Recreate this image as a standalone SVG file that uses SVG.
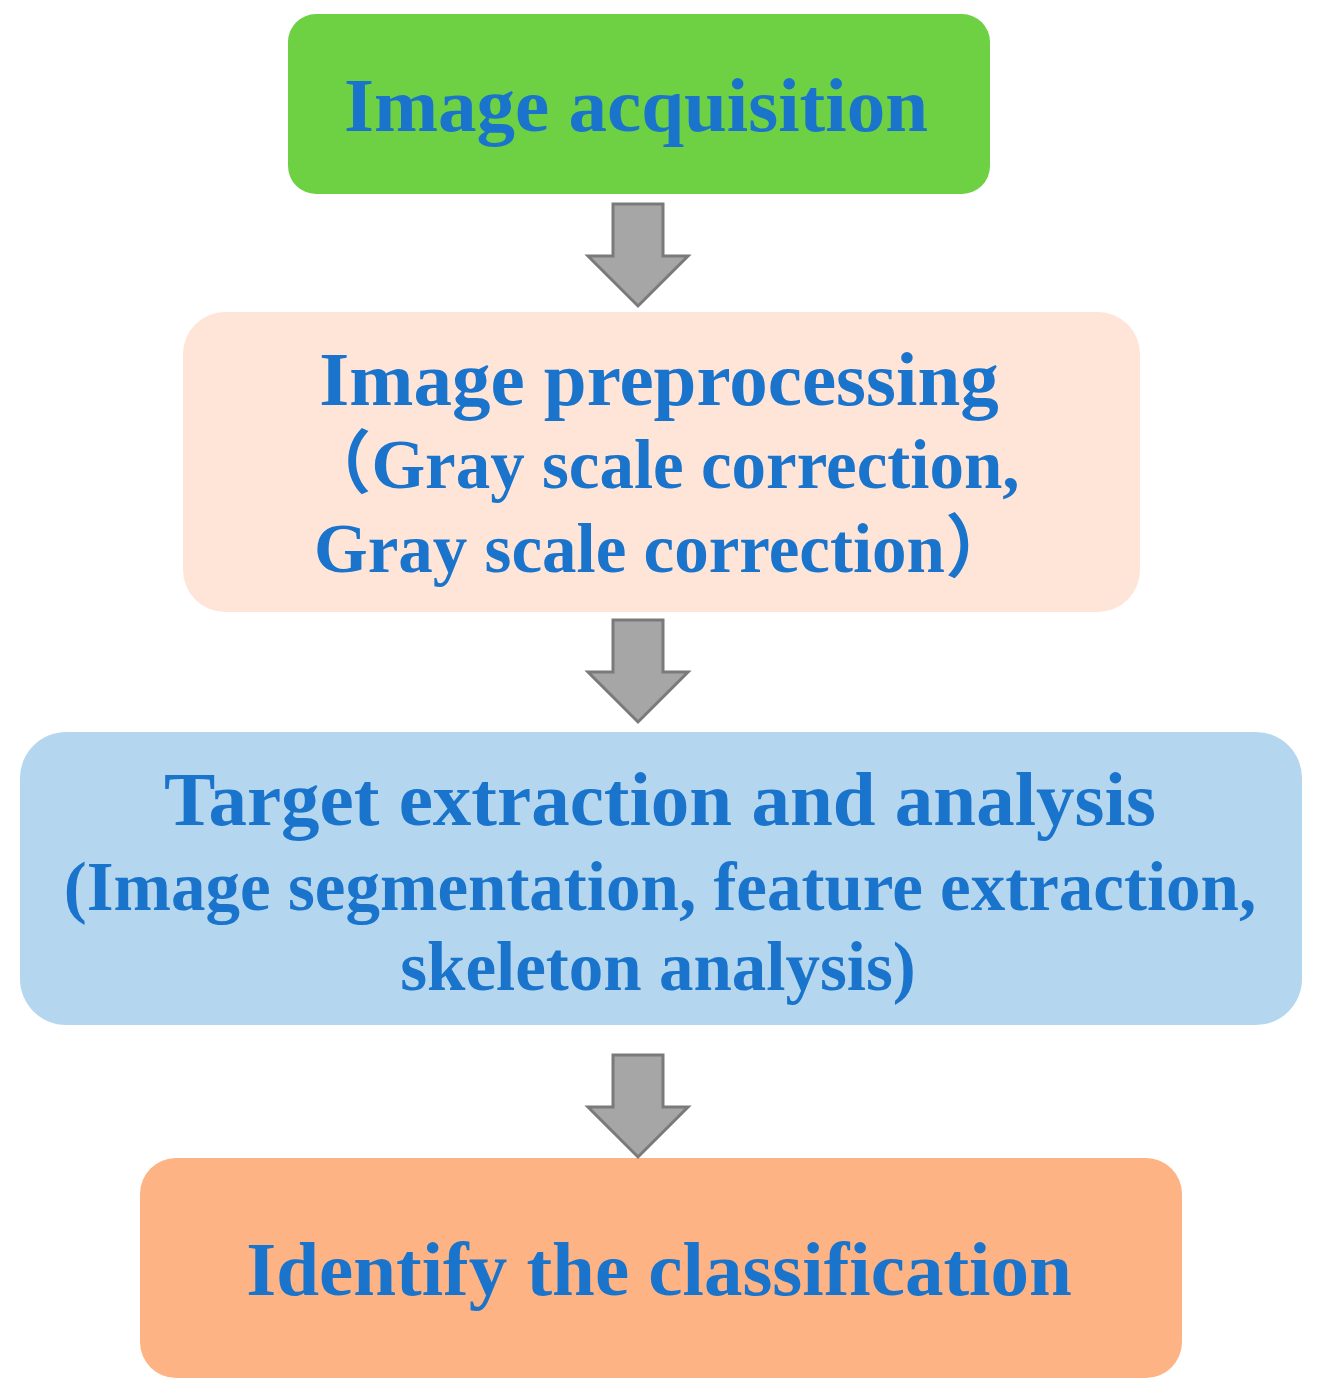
<svg xmlns="http://www.w3.org/2000/svg" width="1320" height="1400" viewBox="0 0 1320 1400">
<style>
.t{font-family:"Liberation Serif","Times New Roman","Noto Sans CJK SC",serif;font-weight:bold;fill:#1A74CC;text-anchor:middle}
.big{font-size:77px}
.sm{font-size:69px}
.arr{fill:#A6A6A6;stroke:#7A7A7A;stroke-width:3;stroke-linejoin:miter}
</style>
<rect width="1320" height="1400" fill="#FFFFFF"/>
<g id="node-acquisition">
<rect x="288" y="14" width="702" height="180" rx="28" fill="#6DD143"/>
<text class="t big" x="636" y="131">Image acquisition</text>
</g>
<g id="node-preprocessing">
<rect x="183" y="312" width="957" height="300" rx="42" fill="#FFE5D7"/>
<text class="t big" x="659" y="405">Image preprocessing</text>
<text class="t sm" x="661" y="488">（Gray scale correction,</text>
<text class="t sm" x="664" y="572">Gray scale correction）</text>
</g>
<g id="node-extraction">
<rect x="20" y="732" width="1282" height="293" rx="46" fill="#B4D7EF"/>
<text class="t big" x="660" y="825">Target extraction and analysis</text>
<text class="t sm" x="660" y="910">(Image segmentation, feature extraction,</text>
<text class="t sm" x="658" y="990">skeleton analysis)</text>
</g>
<g id="node-classification">
<rect x="140" y="1158" width="1042" height="220" rx="36" fill="#FDB383"/>
<text class="t big" x="659" y="1295">Identify the classification</text>
</g>
<g id="connectors">
<path class="arr" d="M613,204 H663 V256 H688 L638,306 L588,256 H613 Z"/>
<path class="arr" d="M613,620 H663 V672 H688 L638,722 L588,672 H613 Z"/>
<path class="arr" d="M613,1055 H663 V1107 H688 L638,1157 L588,1107 H613 Z"/>
</g>
</svg>
